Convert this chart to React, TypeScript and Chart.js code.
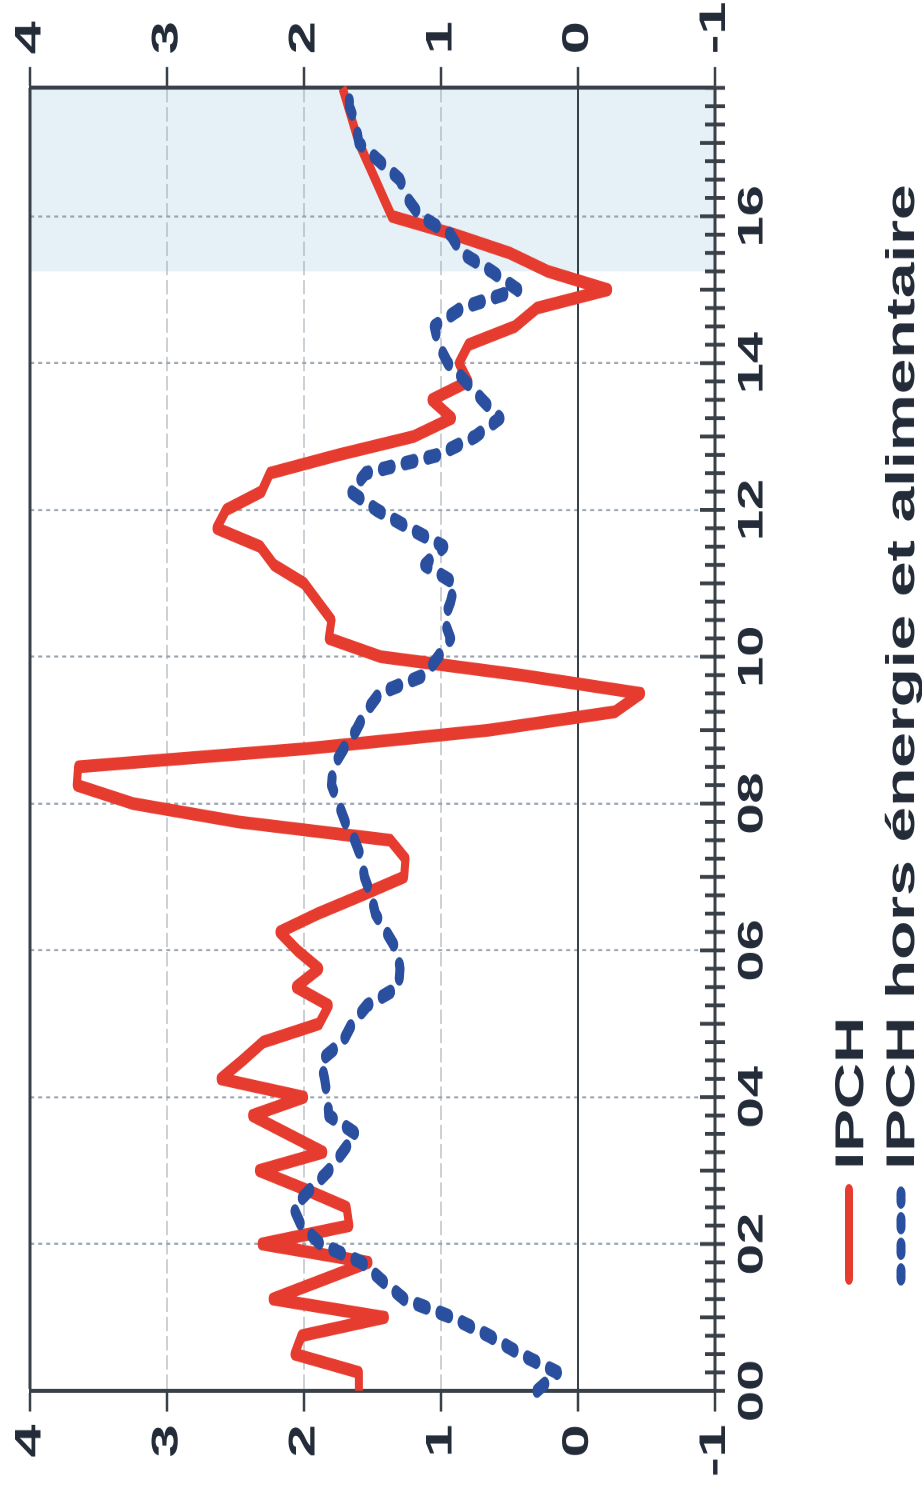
import React, { useEffect, useRef } from 'react';
import { Chart, registerables } from 'chart.js';

Chart.register(...registerables);

// ---------- data ----------
const YEARS = [2000, 2001, 2002, 2003, 2004, 2005, 2006, 2007, 2008, 2009, 2010, 2011, 2012, 2013, 2014, 2015, 2016, 2017];
const QUARTERS = ['T1', 'T2', 'T3', 'T4'];
const CATEGORIES = YEARS.flatMap((y) => QUARTERS.map((q) => `${y}${q}`));
const AXIS_LABELS = ['00', '02', '04', '06', '08', '10', '12', '14', '16'];
const VALUE_TICKS = [-1, 0, 1, 2, 3, 4];
const FORECAST_FROM = '2015T2';
const SERIES_NAMES = ['IPCH', 'IPCH hors énergie et alimentaire'];

// IPCH (glissement annuel, %)
const IPCH = [
  1.60, 1.60, 2.07, 2.02, 1.41, 2.23, 1.88, 1.53,
  2.31, 1.67, 1.69, 2.00, 2.33, 1.86, 2.12, 2.38,
  2.00, 2.61, 2.45, 2.30, 1.89, 1.82, 2.06, 1.89,
  2.05, 2.18, 1.90, 1.58, 1.27, 1.26, 1.37, 2.48,
  3.25, 3.66, 3.65, 1.97, 0.65, -0.27, -0.46, 0.42,
  1.44, 1.82, 1.80, 1.90, 2.00, 2.22, 2.32, 2.64,
  2.57, 2.31, 2.25, 1.75, 1.20, 0.92, 1.07, 0.80,
  0.87, 0.80, 0.46, 0.30, -0.22, 0.22, 0.50, 0.90,
  1.36, 1.42, 1.48, 1.54, 1.60, 1.64, 1.68, 1.72,
];

// IPCH hors énergie et alimentaire
const IPCH_CORE = [
  0.30, 0.15, 0.42, 0.65, 0.92, 1.27, 1.43, 1.58,
  1.88, 2.02, 2.08, 1.95, 1.82, 1.72, 1.62, 1.82,
  1.83, 1.85, 1.88, 1.72, 1.65, 1.54, 1.31, 1.30,
  1.32, 1.40, 1.48, 1.51, 1.56, 1.58, 1.63, 1.70,
  1.75, 1.80, 1.79, 1.71, 1.62, 1.55, 1.45, 1.12,
  1.02, 0.93, 0.98, 0.93, 0.90, 1.12, 0.98, 1.23,
  1.47, 1.66, 1.55, 1.02, 0.75, 0.57, 0.70, 0.82,
  0.95, 1.02, 1.05, 0.85, 0.44, 0.63, 0.85, 0.93,
  1.15, 1.25, 1.30, 1.45, 1.60, 1.62, 1.67, 1.67,
];

// ---------- layout / style ----------
const STRETCH = 1.6;
const CANVAS_W = 933;
const CANVAS_H = 922;
const RED = '#e63b2f';
const BLUE = '#2a4f9f';
const INK = '#232c38';
const AXIS = '#3a4048';
const GRID = '#9aa4ae';
const SHADE = '#e6f0f7';
const FONT = '"Liberation Sans", Arial, Helvetica, sans-serif';
const BLUE_DASH = [9, 14];
const LEGEND_LINE = [134, 189];
const LEGEND_TEXT_X = 202;
const LEGEND_BASELINE = [863, 914];
const LEGEND_LINE_Y = [849, 901];

function yearLabel(cat: string): string {
  if (!cat || !cat.endsWith('T1')) return '';
  const yy = cat.slice(2, 4);
  return AXIS_LABELS.includes(yy) ? yy : '';
}

const specialValue = (v: number) => v === 0 || v === 4 || v === -1;

const shadePlugin = {
  id: 'forecastShade',
  beforeDraw(chart: any) {
    const { ctx, chartArea: a, scales } = chart;
    const x = scales.x;
    const left = x.getPixelForValue(CATEGORIES.indexOf(FORECAST_FROM));
    ctx.save();
    ctx.fillStyle = SHADE;
    ctx.fillRect(left, a.top, a.right - left, a.bottom - a.top);
    ctx.restore();
  },
};

const crossTicksPlugin = {
  id: 'crossTicks',
  afterDraw(chart: any) {
    const { ctx, chartArea: a, scales } = chart;
    const x = scales.x;
    ctx.save();
    ctx.strokeStyle = AXIS;
    ctx.lineWidth = 2.4;
    CATEGORIES.forEach((c, i) => {
      const px = x.getPixelForValue(i);
      const major = c.endsWith('T1');
      ctx.beginPath();
      ctx.moveTo(px, a.bottom - (major ? 15 : 10));
      ctx.lineTo(px, a.bottom + 10);
      ctx.stroke();
    });
    ctx.restore();
  },
};

const legendPlugin = {
  id: 'rotatedLegend',
  afterDraw(chart: any) {
    const ctx = chart.ctx;
    const rows = [
      { name: SERIES_NAMES[0], color: RED, dash: [] as number[], width: 8 },
      { name: SERIES_NAMES[1], color: BLUE, dash: [5, 11], width: 9 },
    ];
    rows.forEach((r, i) => {
      ctx.save();
      ctx.strokeStyle = r.color;
      ctx.lineWidth = r.width;
      ctx.lineCap = 'round';
      ctx.setLineDash(r.dash);
      ctx.beginPath();
      ctx.moveTo(LEGEND_LINE[0], LEGEND_LINE_Y[i]);
      ctx.lineTo(LEGEND_LINE[1], LEGEND_LINE_Y[i]);
      ctx.stroke();
      ctx.setLineDash([]);
      ctx.fillStyle = INK;
      ctx.font = `bold 40px ${FONT}`;
      ctx.textAlign = 'left';
      ctx.textBaseline = 'alphabetic';
      ctx.fillText(r.name, LEGEND_TEXT_X, LEGEND_BASELINE[i]);
      ctx.restore();
    });
  },
};

export default function App() {
  const canvasRef = useRef<HTMLCanvasElement | null>(null);

  useEffect(() => {
    document.body.style.margin = '0';
    document.body.style.overflow = 'hidden';
    document.documentElement.style.overflow = 'hidden';
    const canvas = canvasRef.current;
    if (!canvas) return;

    const tickFontY = { family: FONT, size: 37, weight: 'bold' as const };
    const tickFontX = { family: FONT, size: 35, weight: 'bold' as const };

    const chart = new Chart(canvas, {
      type: 'line',
      data: {
        labels: CATEGORIES,
        datasets: [
          {
            label: SERIES_NAMES[0],
            data: IPCH,
            borderColor: RED,
            backgroundColor: RED,
            borderWidth: 8,
            pointRadius: 0,
            tension: 0,
            borderJoinStyle: 'round',
            borderCapStyle: 'butt',
            order: 1,
          },
          {
            label: SERIES_NAMES[1],
            data: IPCH_CORE,
            borderColor: BLUE,
            backgroundColor: BLUE,
            borderWidth: 9,
            borderDash: BLUE_DASH,
            borderCapStyle: 'round',
            borderJoinStyle: 'round',
            pointRadius: 0,
            tension: 0,
            order: 0,
          },
        ],
      },
      options: {
        animation: false,
        responsive: false,
        devicePixelRatio: 2,
        layout: { padding: { top: 28, left: 0, right: 0, bottom: 0 } },
        plugins: {
          legend: { display: false },
          tooltip: { enabled: false },
        },
        scales: {
          x: {
            type: 'category',
            offset: false,
            grid: {
              color: (ctx: any) => (ctx.index > 0 && yearLabel(CATEGORIES[ctx.index]) ? GRID : 'rgba(0,0,0,0)'),
              lineWidth: 1.3,
              drawTicks: false,
            },
            border: { display: true, color: AXIS, width: 3, dash: [4, 4] },
            ticks: {
              autoSkip: false,
              maxRotation: 0,
              minRotation: 0,
              padding: 17,
              color: INK,
              font: tickFontX,
              callback: (_v: any, i: number) => yearLabel(CATEGORIES[i]),
            },
            afterFit: (s: any) => {
              s.height = CANVAS_H - 715;
            },
          },
          y: {
            position: 'left',
            min: -1,
            max: 4,
            afterBuildTicks: (s: any) => {
              s.ticks = VALUE_TICKS.map((v) => ({ value: v }));
            },
            grid: {
              color: (ctx: any) => (ctx.tick && specialValue(ctx.tick.value) ? AXIS : GRID),
              lineWidth: (ctx: any) => (ctx.tick && ctx.tick.value === 4 ? 3 : ctx.tick && ctx.tick.value === 0 ? 2 : 1),
              tickLength: 13,
              tickColor: AXIS,
              tickWidth: 2.5,
            },
            border: {
              display: true,
              color: AXIS,
              width: 2.5,
              dash: (ctx: any) => (ctx.tick && !specialValue(ctx.tick.value) ? [9, 3] : []),
            },
            ticks: { padding: 8, color: INK, font: tickFontY },
            afterFit: (s: any) => {
              s.width = 63.75;
            },
          },
          y2: {
            position: 'right',
            min: -1,
            max: 4,
            afterBuildTicks: (s: any) => {
              s.ticks = VALUE_TICKS.map((v) => ({ value: v }));
            },
            grid: {
              drawOnChartArea: false,
              tickLength: 13,
              tickColor: AXIS,
              tickWidth: 2.5,
            },
            border: { display: true, color: AXIS, width: 2.5 },
            ticks: { padding: 8, color: INK, font: tickFontY },
            afterFit: (s: any) => {
              s.width = CANVAS_W - 878.1;
            },
          },
        },
      },
      plugins: [shadePlugin, crossTicksPlugin, legendPlugin],
    } as any);

    return () => {
      chart.destroy();
    };
  }, []);

  return (
    <div
      style={{
        position: 'absolute',
        left: 0,
        top: 0,
        width: CANVAS_W,
        height: CANVAS_H,
        transformOrigin: '0 0',
        transform: `translate(0px, ${CANVAS_W * STRETCH}px) rotate(-90deg) scaleX(${STRETCH})`,
        background: '#ffffff',
      }}
    >
      <canvas
        ref={canvasRef}
        width={CANVAS_W}
        height={CANVAS_H}
        style={{ display: 'block', width: CANVAS_W, height: CANVAS_H }}
      />
    </div>
  );
}
